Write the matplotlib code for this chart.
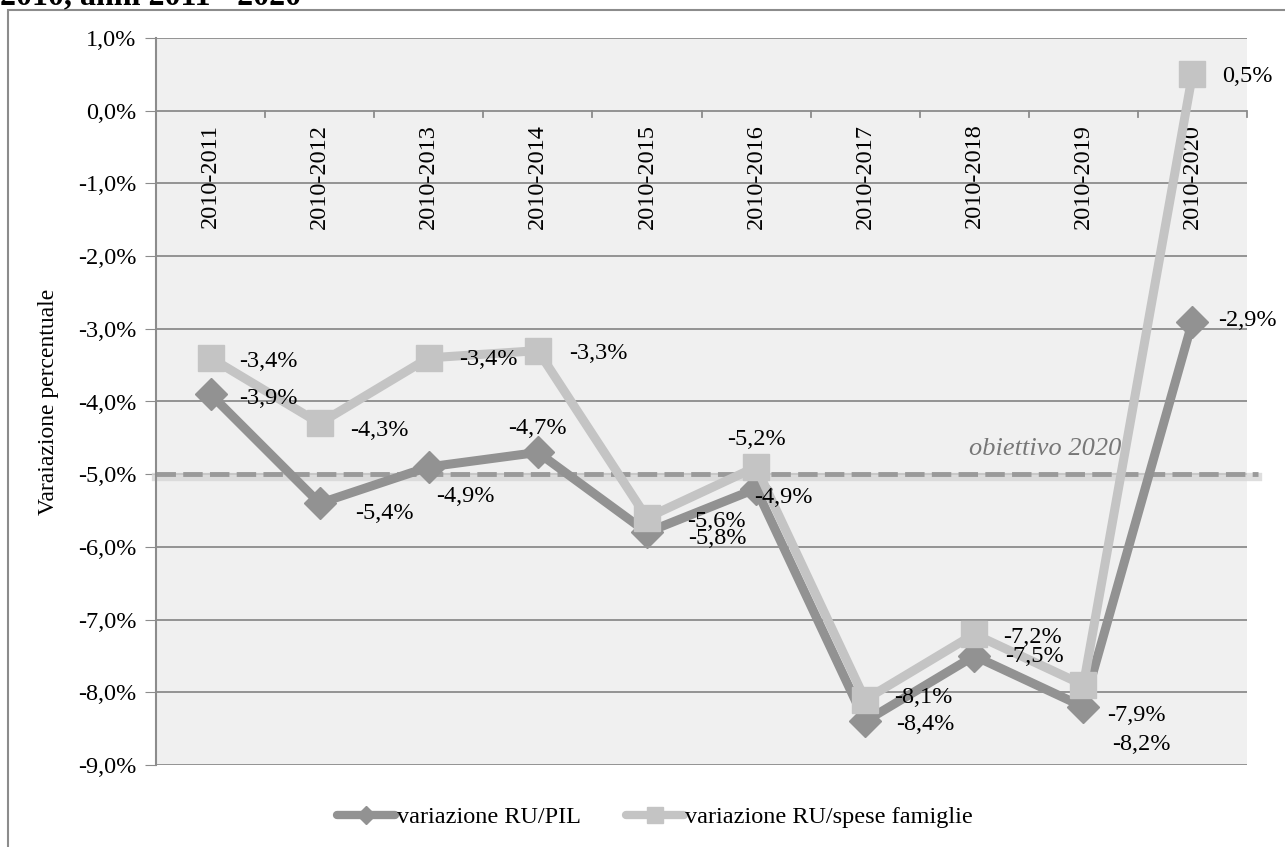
import matplotlib.pyplot as plt
from matplotlib import patches, transforms

W, H = 1285, 847

categories = ["2010-2011", "2010-2012", "2010-2013", "2010-2014", "2010-2015",
              "2010-2016", "2010-2017", "2010-2018", "2010-2019", "2010-2020"]
ru_pil = [-3.9, -5.4, -4.9, -4.7, -5.8, -5.2, -8.4, -7.5, -8.2, -2.9]
ru_spese = [-3.4, -4.3, -3.4, -3.3, -5.6, -4.9, -8.1, -7.2, -7.9, 0.5]
obiettivo = -5.0

# label offsets in pixels (dx, dy) relative to the marker
off_pil = [(58, -4), (65, -10), (37, -30), (0, 24), (70, -6),
           (0, 49), (60, -3), (60, -1), (58, -38), (55, 1)]
off_spese = [(58, -4), (60, -7), (60, -2), (61, -3), (69, -4),
             (27, -31), (58, 2), (58, -3), (53, -30), (55, -2)]

DARK = "#929292"
LIGHT = "#c4c4c4"
GRID = "#8c8c8c"
FONT = "Liberation Serif"
FS = 17.5


def fmt(v):
    return f"{v:.1f}%".replace(".", ",")


def main():
    plt.rcParams["font.family"] = FONT
    fig = plt.figure(figsize=(W / 100, H / 100), dpi=100)
    ax = fig.add_axes([156 / W, 1 - 765 / H, (1247 - 156) / W, (765 - 38) / H])
    ax.set_facecolor("#f0f0f0")

    # outer chart frame and cut title
    fig.patches.append(patches.Rectangle((8 / W, -0.2), 1.2, 1.2 - 10 / H,
                                         transform=fig.transFigure, fill=False,
                                         edgecolor=GRID, linewidth=1.5))
    fig.text(0.0, 1 - 4 / H, "2010, anni 2011 - 2020", fontsize=23,
             fontweight="bold", va="baseline", ha="left")

    x = list(range(len(categories)))
    ax.set_xlim(-0.5, len(categories) - 0.5)
    ax.set_ylim(-9, 1)
    yt = list(range(-9, 2))
    ax.set_yticks(yt)
    ax.set_yticklabels([fmt(v) for v in yt], fontsize=FS)
    ax.tick_params(axis="y", length=8, color=GRID, pad=6)
    ax.set_xticks([])
    for y in yt:
        ax.axhline(y, color=GRID, lw=1.3, zorder=1)
    for s in ["top", "right", "bottom"]:
        ax.spines[s].set_visible(False)
    ax.spines["left"].set_color(GRID)
    ax.spines["left"].set_linewidth(1.5)

    # category axis at 0 with ticks between categories
    for b in range(1, len(categories) + 1):
        ax.plot([b - 0.5, b - 0.5], [0, -0.09], color=GRID, lw=1.3, zorder=1,
                clip_on=False)
    for i, c in enumerate(categories):
        ax.annotate(c, (i, 0), xytext=(0, -13), textcoords="offset pixels",
                    rotation=90, ha="center", va="top", fontsize=FS)

    # target line with soft shadow
    shadow = ax.transData + transforms.ScaledTranslation(0, -2.5 / 100, fig.dpi_scale_trans)
    ax.plot([-0.5, 9.6], [obiettivo, obiettivo], color="#d6d6d6", lw=6,
            alpha=0.8, zorder=2, clip_on=False, transform=shadow)
    ax.plot([-0.5, 9.6], [obiettivo, obiettivo], color="#9a9a9a", lw=3.5,
            dashes=(4, 1.5), zorder=2, clip_on=False)
    ax.annotate("obiettivo 2020", (7.65, obiettivo), xytext=(0, 25),
                textcoords="offset pixels", ha="center", va="center",
                style="italic", color="#777777", fontsize=19)

    ax.plot(x, ru_pil, color=DARK, lw=6.5, marker="D", markersize=16,
            label="variazione RU/PIL", zorder=3)
    ax.plot(x, ru_spese, color=LIGHT, lw=6.5, marker="s", markersize=19,
            label="variazione RU/spese famiglie", zorder=4)

    for xi, v, (dx, dy) in zip(x, ru_pil, off_pil):
        ax.annotate(fmt(v), (xi, v), xytext=(dx, dy), textcoords="offset pixels",
                    ha="center", va="center", fontsize=FS, zorder=6)
    for xi, v, (dx, dy) in zip(x, ru_spese, off_spese):
        ax.annotate(fmt(v), (xi, v), xytext=(dx, dy), textcoords="offset pixels",
                    ha="center", va="center", fontsize=FS, zorder=6,
                    annotation_clip=False)

    ax.set_ylabel("Varaiazione percentuale", fontsize=17, labelpad=14)

    leg = ax.legend(loc="center", bbox_to_anchor=(655 / W, 1 - 817 / H),
                    bbox_transform=fig.transFigure, ncol=2, frameon=False,
                    fontsize=FS, handlelength=2.4, handletextpad=0.05,
                    columnspacing=1.85, markerscale=0.6)
    for h in leg.get_lines():
        h.set_linewidth(6)
        h.set_solid_capstyle("round")

    fig.savefig("out.png", dpi=100)


if __name__ == "__main__":
    main()
